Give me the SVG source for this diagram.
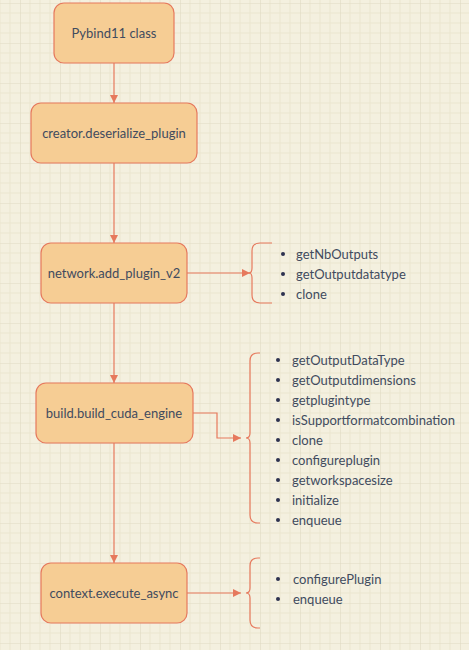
<svg xmlns="http://www.w3.org/2000/svg" width="469" height="650" viewBox="0 0 469 650">
<style>
.node rect{fill:#f6cd94;stroke:#e6795d;stroke-width:1.2}
.node text{font-family:Lato,"Open Sans",sans-serif;font-size:13px;fill:#414b5e;text-anchor:middle;dominant-baseline:central}
.edge{fill:none;stroke:#e6795d;stroke-width:1.2}
.brace{fill:none;stroke:#e6795d;stroke-width:1.2}
.list text{font-family:Lato,"Open Sans",sans-serif;font-size:13px;fill:#414b5e;dominant-baseline:central}
.list circle{fill:#2e3250}
</style>
<defs>
<pattern id="grid" patternUnits="userSpaceOnUse" x="20" y="3" width="40" height="40">
<path d="M10 0V40M20 0V40M30 0V40M0 10H40M0 20H40M0 30H40" stroke="#ebe6cf" stroke-width="1" fill="none"/>
<path d="M0 0V40M0 0H40" stroke="#dfdac3" stroke-width="1.2" fill="none"/>
</pattern>
<marker id="arr" viewBox="0 0 10 10" refX="10" refY="5" markerWidth="8" markerHeight="8" markerUnits="userSpaceOnUse" orient="auto">
<path d="M0 0L10 5L0 10z" fill="#e6795d"/>
</marker>
</defs>
<rect width="469" height="650" fill="#f4f0df"/>
<rect width="469" height="650" fill="url(#grid)"/>
<g id="connectors">
<path class="edge" d="M114 63V103" marker-end="url(#arr)"/>
<path class="edge" d="M114 163V243" marker-end="url(#arr)"/>
<path class="edge" d="M114 303V383" marker-end="url(#arr)"/>
<path class="edge" d="M114 443V563" marker-end="url(#arr)"/>
<path class="edge" d="M187 273H250" marker-end="url(#arr)"/>
<path class="edge" d="M193 413H217V438H241" marker-end="url(#arr)"/>
<path class="edge" d="M187 593H241" marker-end="url(#arr)"/>
</g>
<g id="n1" class="node"><rect x="54" y="3" width="120" height="60" rx="10"/><text x="114" y="33">Pybind11 class</text></g>
<g id="n2" class="node"><rect x="31" y="103" width="166" height="60" rx="10"/><text x="114" y="133">creator.deserialize_plugin</text></g>
<g id="n3" class="node"><rect x="41" y="243" width="146" height="60" rx="10"/><text x="114" y="273">network.add_plugin_v2</text></g>
<g id="n4" class="node"><rect x="36" y="383" width="157" height="60" rx="10"/><text x="114" y="413">build.build_cuda_engine</text></g>
<g id="n5" class="node"><rect x="41" y="563" width="146" height="60" rx="10"/><text x="114" y="593">context.execute_async</text></g>
<g id="list1" class="list">
<path class="brace" d="M272 243H260Q252 243 252 251V268Q252 273 249 273Q252 273 252 278V295Q252 303 260 303H272"/>
<circle cx="283" cy="254" r="2"/><text x="296" y="254">getNbOutputs</text>
<circle cx="283" cy="274" r="2"/><text x="296" y="274">getOutputdatatype</text>
<circle cx="283" cy="294" r="2"/><text x="296" y="294">clone</text>
</g>
<g id="list2" class="list">
<path class="brace" d="M260 353H258Q250 353 250 361V433Q250 438 246 438Q250 438 250 443V515Q250 523 258 523H260"/>
<circle cx="278" cy="360" r="2"/><text x="292" y="360">getOutputDataType</text>
<circle cx="278" cy="380" r="2"/><text x="292" y="380">getOutputdimensions</text>
<circle cx="278" cy="400" r="2"/><text x="292" y="400">getplugintype</text>
<circle cx="278" cy="420" r="2"/><text x="292" y="420">isSupportformatcombination</text>
<circle cx="278" cy="440" r="2"/><text x="292" y="440">clone</text>
<circle cx="278" cy="460" r="2"/><text x="292" y="460">configureplugin</text>
<circle cx="278" cy="480" r="2"/><text x="292" y="480">getworkspacesize</text>
<circle cx="278" cy="500" r="2"/><text x="292" y="500">initialize</text>
<circle cx="278" cy="520" r="2"/><text x="292" y="520">enqueue</text>
</g>
<g id="list3" class="list">
<path class="brace" d="M260 558H258Q250 558 250 566V588Q250 593 246 593Q250 593 250 598V620Q250 628 258 628H260"/>
<circle cx="278" cy="579" r="2"/><text x="293" y="579">configurePlugin</text>
<circle cx="278" cy="599" r="2"/><text x="293" y="599">enqueue</text>
</g>
</svg>
